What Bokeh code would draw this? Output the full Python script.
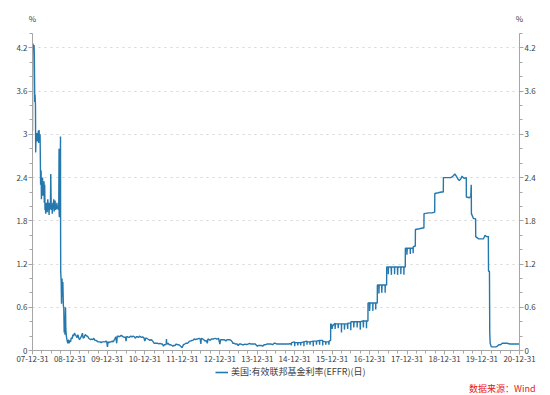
import pandas as pd
from bokeh.plotting import figure
from bokeh.layouts import column
from bokeh.models import (Range1d, FixedTicker, DatetimeTickFormatter, CustomJSTickFormatter,
                          LinearAxis, Legend, LegendItem, Title, ColumnDataSource)
from bokeh.embed import file_html
from bokeh.resources import INLINE

# ---------------- data ----------------
series_name = "美国:有效联邦基金利率(EFFR)(日)"
source_note = "数据来源：Wind"
unit_label = "%"

x_tick_dates = ["2007-12-31", "2008-12-31", "2009-12-31", "2010-12-31", "2011-12-31",
                "2012-12-31", "2013-12-31", "2014-12-31", "2015-12-31", "2016-12-31",
                "2017-12-31", "2018-12-31", "2019-12-31", "2020-12-31"]
y_ticks = [0, 0.6, 1.2, 1.8, 2.4, 3.0, 3.6, 4.2]
y_minor = [0.2, 0.4, 0.8, 1.0, 1.4, 1.6, 2.0, 2.2, 2.6, 2.8, 3.2, 3.4, 3.8, 4.0, 4.4]

effr_2008 = [
    ("2007-12-31", 3.05), ("2008-01-02", 4.20), ("2008-01-04", 4.26), ("2008-01-08", 4.22),
    ("2008-01-11", 4.18), ("2008-01-15", 4.24), ("2008-01-18", 4.10), ("2008-01-22", 3.45),
    ("2008-01-25", 3.55), ("2008-01-29", 3.40), ("2008-01-31", 2.75), ("2008-02-04", 3.00),
    ("2008-02-07", 2.95), ("2008-02-11", 3.02), ("2008-02-14", 2.90), ("2008-02-19", 3.00),
    ("2008-02-22", 2.95), ("2008-02-26", 3.05), ("2008-02-29", 2.88), ("2008-03-04", 3.06),
    ("2008-03-07", 2.95), ("2008-03-11", 2.92), ("2008-03-14", 3.00), ("2008-03-19", 2.30),
    ("2008-03-24", 2.50), ("2008-03-27", 2.10), ("2008-03-31", 2.35), ("2008-04-03", 2.25),
    ("2008-04-07", 2.40), ("2008-04-10", 2.15), ("2008-04-14", 2.30), ("2008-04-17", 2.22),
    ("2008-04-21", 2.35), ("2008-04-24", 2.05), ("2008-04-28", 2.30), ("2008-05-01", 1.95),
    ("2008-05-05", 2.00), ("2008-05-08", 1.90), ("2008-05-12", 2.05), ("2008-05-15", 1.98),
    ("2008-05-19", 2.02), ("2008-05-22", 1.92), ("2008-05-28", 2.10), ("2008-06-02", 1.95),
    ("2008-06-05", 2.00), ("2008-06-10", 1.88), ("2008-06-13", 2.05), ("2008-06-18", 1.96),
    ("2008-06-23", 2.00), ("2008-06-26", 2.45), ("2008-06-30", 2.05), ("2008-07-03", 1.95),
    ("2008-07-08", 2.02), ("2008-07-11", 1.90), ("2008-07-16", 2.05), ("2008-07-21", 1.97),
    ("2008-07-25", 2.10), ("2008-07-30", 1.93), ("2008-08-04", 2.00), ("2008-08-07", 2.08),
    ("2008-08-12", 1.95), ("2008-08-15", 2.02), ("2008-08-20", 1.96), ("2008-08-25", 2.05),
    ("2008-08-29", 1.97), ("2008-09-03", 2.00), ("2008-09-08", 1.95), ("2008-09-12", 2.02),
    ("2008-09-15", 2.80), ("2008-09-16", 1.90), ("2008-09-18", 1.85), ("2008-09-22", 2.00),
    ("2008-09-25", 1.95), ("2008-09-29", 2.97), ("2008-09-30", 1.60), ("2008-10-01", 1.10),
    ("2008-10-06", 0.95), ("2008-10-09", 0.65), ("2008-10-14", 1.00), ("2008-10-17", 0.75),
    ("2008-10-22", 0.95), ("2008-10-27", 0.62), ("2008-10-31", 0.60), ("2008-11-04", 0.25),
    ("2008-11-07", 0.35), ("2008-11-12", 0.22), ("2008-11-17", 0.60), ("2008-11-20", 0.30),
    ("2008-11-25", 0.20), ("2008-12-01", 0.15), ("2008-12-05", 0.12), ("2008-12-10", 0.10),
    ("2008-12-16", 0.15), ("2008-12-22", 0.10), ("2008-12-31", 0.14),
]

effr_2009_2010 = [
    ("2009-01-05", 0.12), ("2009-01-12", 0.18), ("2009-01-20", 0.16), ("2009-01-28", 0.22),
    ("2009-02-04", 0.20), ("2009-02-12", 0.24), ("2009-02-20", 0.22), ("2009-03-02", 0.20),
    ("2009-03-10", 0.18), ("2009-03-18", 0.22), ("2009-03-26", 0.17), ("2009-04-03", 0.15),
    ("2009-04-13", 0.18), ("2009-04-22", 0.20), ("2009-05-01", 0.24), ("2009-05-08", 0.17),
    ("2009-05-18", 0.18), ("2009-05-27", 0.22), ("2009-06-05", 0.21), ("2009-06-15", 0.20),
    ("2009-06-24", 0.19), ("2009-07-01", 0.17), ("2009-07-10", 0.16), ("2009-07-20", 0.15),
    ("2009-07-30", 0.16), ("2009-08-10", 0.15), ("2009-08-20", 0.17), ("2009-08-31", 0.14),
    ("2009-09-10", 0.14), ("2009-09-21", 0.13), ("2009-09-30", 0.12), ("2009-10-09", 0.12),
    ("2009-10-20", 0.12), ("2009-10-30", 0.11), ("2009-11-10", 0.12), ("2009-11-20", 0.12),
    ("2009-11-30", 0.12), ("2009-12-07", 0.12), ("2009-12-16", 0.13), ("2009-12-24", 0.12),
    ("2009-12-31", 0.05),
    ("2010-01-05", 0.12), ("2010-01-15", 0.11), ("2010-01-26", 0.12), ("2010-02-05", 0.12),
    ("2010-02-16", 0.13), ("2010-02-25", 0.12), ("2010-03-05", 0.14), ("2010-03-12", 0.16),
    ("2010-03-22", 0.19), ("2010-03-31", 0.10), ("2010-04-06", 0.20), ("2010-04-16", 0.20),
    ("2010-04-26", 0.19), ("2010-05-05", 0.20), ("2010-05-14", 0.21), ("2010-05-25", 0.20),
    ("2010-06-04", 0.19), ("2010-06-15", 0.18), ("2010-06-24", 0.19), ("2010-06-30", 0.13),
    ("2010-07-06", 0.19), ("2010-07-16", 0.19), ("2010-07-27", 0.18), ("2010-08-06", 0.19),
    ("2010-08-17", 0.20), ("2010-08-27", 0.19), ("2010-09-08", 0.20), ("2010-09-20", 0.19),
    ("2010-09-30", 0.17), ("2010-10-08", 0.19), ("2010-10-20", 0.19), ("2010-10-29", 0.18),
    ("2010-11-08", 0.20), ("2010-11-19", 0.19), ("2010-11-30", 0.18), ("2010-12-08", 0.19),
    ("2010-12-20", 0.18), ("2010-12-31", 0.13),
]

effr_2011_2014 = [
    ("2011-01-07", 0.17), ("2011-01-18", 0.17), ("2011-01-28", 0.16), ("2011-02-08", 0.15),
    ("2011-02-18", 0.14), ("2011-03-01", 0.15), ("2011-03-11", 0.14), ("2011-03-22", 0.12),
    ("2011-04-01", 0.10), ("2011-04-12", 0.10), ("2011-04-25", 0.10), ("2011-05-05", 0.10),
    ("2011-05-17", 0.09), ("2011-05-27", 0.10), ("2011-06-08", 0.09), ("2011-06-20", 0.09),
    ("2011-06-30", 0.06), ("2011-07-08", 0.08), ("2011-07-19", 0.08), ("2011-07-27", 0.09),
    ("2011-07-29", 0.16), ("2011-08-02", 0.09), ("2011-08-15", 0.10), ("2011-08-26", 0.08),
    ("2011-09-08", 0.08), ("2011-09-20", 0.07), ("2011-09-30", 0.06), ("2011-10-11", 0.07),
    ("2011-10-21", 0.07), ("2011-11-01", 0.09), ("2011-11-14", 0.08), ("2011-11-28", 0.08),
    ("2011-12-08", 0.07), ("2011-12-20", 0.05), ("2011-12-30", 0.04),
    ("2012-01-10", 0.08), ("2012-01-23", 0.09), ("2012-02-03", 0.10), ("2012-02-15", 0.10),
    ("2012-02-28", 0.11), ("2012-03-09", 0.13), ("2012-03-21", 0.13), ("2012-04-02", 0.14),
    ("2012-04-13", 0.14), ("2012-04-25", 0.16), ("2012-05-07", 0.15), ("2012-05-18", 0.16),
    ("2012-05-31", 0.16), ("2012-06-11", 0.17), ("2012-06-22", 0.16), ("2012-06-29", 0.09),
    ("2012-07-03", 0.17), ("2012-07-16", 0.16), ("2012-07-27", 0.15), ("2012-08-08", 0.13),
    ("2012-08-20", 0.14), ("2012-08-31", 0.10), ("2012-09-05", 0.16), ("2012-09-18", 0.15),
    ("2012-09-28", 0.14), ("2012-10-10", 0.16), ("2012-10-22", 0.16), ("2012-11-01", 0.16),
    ("2012-11-14", 0.17), ("2012-11-27", 0.16), ("2012-12-07", 0.16), ("2012-12-18", 0.17),
    ("2012-12-31", 0.09),
    ("2013-01-08", 0.15), ("2013-01-22", 0.15), ("2013-02-01", 0.15), ("2013-02-15", 0.15),
    ("2013-02-28", 0.13), ("2013-03-11", 0.15), ("2013-03-25", 0.15), ("2013-04-05", 0.15),
    ("2013-04-19", 0.14), ("2013-05-01", 0.12), ("2013-05-06", 0.10), ("2013-05-20", 0.10),
    ("2013-06-03", 0.09), ("2013-06-17", 0.09), ("2013-06-28", 0.07), ("2013-07-10", 0.09),
    ("2013-07-24", 0.09), ("2013-08-07", 0.08), ("2013-08-21", 0.08), ("2013-09-04", 0.09),
    ("2013-09-18", 0.08), ("2013-10-02", 0.09), ("2013-10-16", 0.10), ("2013-10-30", 0.09),
    ("2013-11-13", 0.09), ("2013-11-27", 0.09), ("2013-12-11", 0.09), ("2013-12-31", 0.06),
    ("2014-01-10", 0.07), ("2014-01-24", 0.07), ("2014-02-07", 0.07), ("2014-02-21", 0.06),
    ("2014-03-07", 0.08), ("2014-03-21", 0.08), ("2014-04-04", 0.09), ("2014-04-18", 0.09),
    ("2014-05-02", 0.09), ("2014-05-16", 0.09), ("2014-05-30", 0.08), ("2014-06-13", 0.10),
    ("2014-06-27", 0.10), ("2014-07-11", 0.09), ("2014-07-25", 0.09), ("2014-08-08", 0.09),
    ("2014-08-22", 0.09), ("2014-09-05", 0.09), ("2014-09-19", 0.09), ("2014-10-03", 0.09),
    ("2014-10-17", 0.09), ("2014-10-31", 0.09),
    ("2014-11-03", 0.09), ("2014-11-26", 0.10), ("2014-11-28", 0.07), ("2014-12-01", 0.11),
    ("2014-12-30", 0.12), ("2014-12-31", 0.06),
]

effr_2015_2017 = [
    ("2015-01-02", 0.11), ("2015-01-29", 0.11), ("2015-01-30", 0.07), ("2015-02-02", 0.11),
    ("2015-02-26", 0.11), ("2015-02-27", 0.07), ("2015-03-02", 0.11), ("2015-03-30", 0.12),
    ("2015-03-31", 0.06), ("2015-04-01", 0.12), ("2015-04-29", 0.13), ("2015-04-30", 0.08),
    ("2015-05-01", 0.12), ("2015-05-28", 0.12), ("2015-05-29", 0.08), ("2015-06-01", 0.12),
    ("2015-06-29", 0.13), ("2015-06-30", 0.06), ("2015-07-01", 0.13), ("2015-07-30", 0.13),
    ("2015-07-31", 0.08), ("2015-08-03", 0.13), ("2015-08-28", 0.14), ("2015-08-31", 0.08),
    ("2015-09-01", 0.14), ("2015-09-29", 0.14), ("2015-09-30", 0.07), ("2015-10-01", 0.13),
    ("2015-10-29", 0.12), ("2015-10-30", 0.08), ("2015-11-02", 0.12), ("2015-11-27", 0.12),
    ("2015-11-30", 0.08), ("2015-12-01", 0.13), ("2015-12-16", 0.14), ("2015-12-17", 0.37),
    ("2015-12-30", 0.35), ("2015-12-31", 0.30),
    ("2016-01-04", 0.34), ("2016-01-28", 0.38), ("2016-01-29", 0.30), ("2016-02-01", 0.37),
    ("2016-02-26", 0.37), ("2016-02-29", 0.31), ("2016-03-01", 0.37), ("2016-03-30", 0.37),
    ("2016-03-31", 0.25), ("2016-04-01", 0.37), ("2016-04-28", 0.37), ("2016-04-29", 0.29),
    ("2016-05-02", 0.37), ("2016-05-27", 0.37), ("2016-05-31", 0.30), ("2016-06-01", 0.38),
    ("2016-06-29", 0.38), ("2016-06-30", 0.28), ("2016-07-01", 0.40), ("2016-07-28", 0.40),
    ("2016-07-29", 0.32), ("2016-08-01", 0.40), ("2016-08-30", 0.40), ("2016-08-31", 0.32),
    ("2016-09-01", 0.40), ("2016-09-29", 0.40), ("2016-09-30", 0.29), ("2016-10-03", 0.40),
    ("2016-10-28", 0.41), ("2016-10-31", 0.32), ("2016-11-01", 0.41), ("2016-11-29", 0.41),
    ("2016-11-30", 0.31), ("2016-12-01", 0.41), ("2016-12-14", 0.41), ("2016-12-15", 0.66),
    ("2016-12-29", 0.66), ("2016-12-30", 0.55),
    ("2017-01-03", 0.66), ("2017-01-30", 0.66), ("2017-01-31", 0.55), ("2017-02-01", 0.66),
    ("2017-02-27", 0.66), ("2017-02-28", 0.57), ("2017-03-01", 0.66), ("2017-03-15", 0.66),
    ("2017-03-16", 0.91), ("2017-03-30", 0.91), ("2017-03-31", 0.79), ("2017-04-03", 0.91),
    ("2017-04-27", 0.91), ("2017-04-28", 0.80), ("2017-05-01", 0.91), ("2017-05-30", 0.91),
    ("2017-05-31", 0.80), ("2017-06-01", 0.91), ("2017-06-14", 0.91), ("2017-06-15", 1.16),
    ("2017-06-29", 1.16), ("2017-06-30", 1.06), ("2017-07-03", 1.16), ("2017-07-28", 1.16),
    ("2017-07-31", 1.05), ("2017-08-01", 1.16), ("2017-08-30", 1.16), ("2017-08-31", 1.06),
    ("2017-09-01", 1.16), ("2017-09-28", 1.16), ("2017-09-29", 1.05), ("2017-10-02", 1.16),
    ("2017-10-30", 1.16), ("2017-10-31", 1.06), ("2017-11-01", 1.16), ("2017-11-29", 1.16),
    ("2017-11-30", 1.05), ("2017-12-01", 1.16), ("2017-12-13", 1.16), ("2017-12-14", 1.42),
    ("2017-12-28", 1.42), ("2017-12-29", 1.33),
]

effr_2018_2020 = [
    ("2018-01-02", 1.42), ("2018-01-30", 1.42), ("2018-01-31", 1.34), ("2018-02-01", 1.42),
    ("2018-02-27", 1.42), ("2018-02-28", 1.35), ("2018-03-01", 1.44), ("2018-03-21", 1.45),
    ("2018-03-22", 1.68), ("2018-04-30", 1.69), ("2018-05-31", 1.70), ("2018-06-13", 1.70),
    ("2018-06-14", 1.90), ("2018-07-31", 1.91), ("2018-08-31", 1.91), ("2018-09-26", 1.92),
    ("2018-09-27", 2.18), ("2018-10-31", 2.19), ("2018-11-30", 2.20), ("2018-12-19", 2.20),
    ("2018-12-20", 2.40), ("2019-01-31", 2.40), ("2019-02-28", 2.40), ("2019-03-15", 2.41),
    ("2019-03-29", 2.43), ("2019-04-10", 2.45), ("2019-04-25", 2.42), ("2019-05-10", 2.38),
    ("2019-05-24", 2.36), ("2019-06-07", 2.38), ("2019-06-20", 2.42), ("2019-07-01", 2.40),
    ("2019-07-12", 2.39), ("2019-07-31", 2.40), ("2019-08-01", 2.13), ("2019-08-30", 2.12),
    ("2019-09-13", 2.14), ("2019-09-16", 2.25), ("2019-09-17", 2.30), ("2019-09-18", 2.25),
    ("2019-09-19", 1.90), ("2019-10-10", 1.83), ("2019-10-30", 1.83), ("2019-10-31", 1.58),
    ("2019-11-29", 1.55), ("2019-12-31", 1.55), ("2020-01-15", 1.55), ("2020-01-30", 1.60),
    ("2020-02-14", 1.58), ("2020-02-28", 1.58), ("2020-03-02", 1.59), ("2020-03-04", 1.10),
    ("2020-03-13", 1.10), ("2020-03-16", 0.25), ("2020-03-20", 0.10), ("2020-03-31", 0.05),
    ("2020-04-15", 0.05), ("2020-04-30", 0.05), ("2020-05-15", 0.05), ("2020-05-29", 0.06),
    ("2020-06-12", 0.08), ("2020-06-30", 0.08), ("2020-07-15", 0.10), ("2020-07-31", 0.10),
    ("2020-08-31", 0.10), ("2020-09-30", 0.09), ("2020-10-30", 0.09), ("2020-11-30", 0.09),
    ("2020-12-31", 0.09),
]

# ---------------- build ----------------
rows = effr_2008 + effr_2009_2010 + effr_2011_2014 + effr_2015_2017 + effr_2018_2020
df = pd.DataFrame(rows, columns=["date", "value"])
df["date"] = pd.to_datetime(df["date"])
src = ColumnDataSource(df)

xt = pd.to_datetime(x_tick_dates)
x_major_ms = [int(t.value // 10**6) for t in xt]
x_minor_ms = []
for t in xt[:-1]:
    for m in (3, 6, 9):
        q = (t + pd.DateOffset(months=m)) + pd.offsets.MonthEnd(0)
        x_minor_ms.append(int(q.value // 10**6))

FONT = "Noto Sans CJK SC"
AX = "#a6a6a6"
LBL = "#404040"
LINE_COLOR = "#2578ad"

p = figure(frame_width=487, frame_height=317, x_axis_type="datetime",
           output_backend="svg", toolbar_location=None,
           x_range=Range1d(xt[0], xt[-1]), y_range=Range1d(0, 4.4),
           min_border_left=32, min_border_right=31, min_border_top=33, min_border_bottom=0)
p.outline_line_color = None
p.background_fill_color = "white"
p.border_fill_color = "white"

line = p.line("date", "value", source=src, line_color=LINE_COLOR, line_width=1.4)

xticker = FixedTicker(ticks=x_major_ms, minor_ticks=x_minor_ms)
xaxis = p.xaxis[0]
xaxis.ticker = xticker
xaxis.formatter = DatetimeTickFormatter(years="%y-%m-%d", months="%y-%m-%d", days="%y-%m-%d",
                                        hours="%y-%m-%d", strip_leading_zeros=False)

yticker = FixedTicker(ticks=y_ticks, minor_ticks=y_minor)
yfmt = CustomJSTickFormatter(code="return tick.toFixed(1).replace(/\\.0$/, '');")
p.yaxis[0].ticker = yticker
p.yaxis[0].formatter = yfmt
raxis = LinearAxis(ticker=yticker, formatter=yfmt)
p.add_layout(raxis, "right")

for ax in [xaxis, p.yaxis[0], raxis]:
    ax.axis_line_color = AX
    ax.major_tick_line_color = AX
    ax.minor_tick_line_color = AX
    ax.major_tick_in = 0
    ax.major_tick_out = 4
    ax.minor_tick_in = 0
    ax.minor_tick_out = 3
    ax.major_label_text_font = FONT
    ax.major_label_text_font_size = "8px"
    ax.major_label_text_color = LBL
    ax.major_label_standoff = 1

unit_axis = LinearAxis(ticker=FixedTicker(ticks=[x_major_ms[0], x_major_ms[-1]], minor_ticks=[]),
                       formatter=CustomJSTickFormatter(code="return '%';"))
unit_axis.axis_line_color = None
unit_axis.major_tick_line_color = None
unit_axis.minor_tick_line_color = None
unit_axis.major_tick_out = 0
unit_axis.major_tick_in = 0
unit_axis.major_label_standoff = 10
unit_axis.major_label_text_font = FONT
unit_axis.major_label_text_font_size = "8px"
unit_axis.major_label_text_color = LBL
p.add_layout(unit_axis, "above")

p.xgrid.visible = False
p.ygrid.ticker = yticker
p.ygrid.grid_line_color = "#d4d4d4"
p.ygrid.grid_line_dash = "dotted"
p.ygrid.grid_line_width = 1

# ---------------- footer strip: legend + source ----------------
foot = figure(frame_width=487, frame_height=15, output_backend="svg", toolbar_location=None,
              x_range=Range1d(0, 487), y_range=Range1d(0, 15),
              x_axis_location=None, y_axis_location=None,
              min_border_left=32, min_border_right=31, min_border_top=0, min_border_bottom=0)
foot.outline_line_color = None
foot.grid.visible = False
foot.background_fill_color = "white"
foot.border_fill_color = "white"
# same series drawn out of this strip's view, only to give the legend its key
key_line = foot.line("date", "value", source=src, line_color=LINE_COLOR, line_width=1.6)

legend = Legend(items=[LegendItem(label=series_name, renderers=[key_line])],
                location=(183, 1), orientation="horizontal",
                label_text_font=FONT, label_text_font_size="9px", label_text_color=LBL,
                label_height=9, glyph_width=13, glyph_height=8, padding=0, margin=0, spacing=0,
                label_standoff=3, border_line_color=None, background_fill_alpha=0)
foot.add_layout(legend, "center")

src_title = Title(text=source_note, align="right", offset=-16, standoff=0,
                  text_font=FONT, text_font_size="9px", text_color="#e8141c",
                  text_font_style="normal")
foot.add_layout(src_title, "below")

layout = column(p, foot, spacing=0)
open("out.html", "w").write(file_html(layout, INLINE))
